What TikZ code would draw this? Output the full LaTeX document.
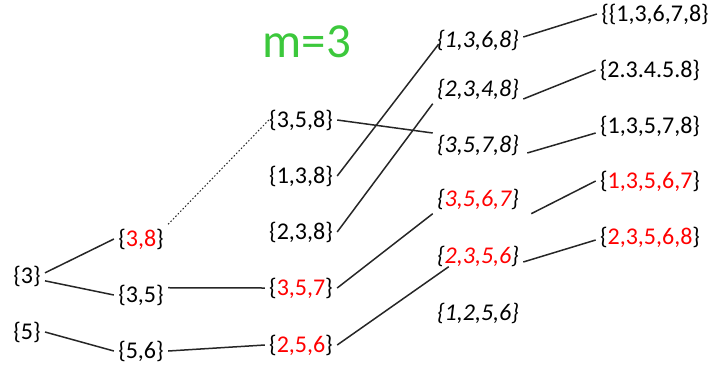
\documentclass[tikz,border=0pt]{standalone}
\usepackage{fontspec}
\setmainfont{Carlito}
\usepackage{xcolor}
\definecolor{setred}{RGB}{255,0,0}
\definecolor{mgreen}{RGB}{60,200,60}
\newcommand{\hl}[1]{\textcolor{setred}{#1}}

\begin{document}
\begin{tikzpicture}[x=0.5pt,y=-0.5pt,
	every node/.style={font=\fontsize{12}{14}\selectfont, inner sep=2pt},
	link/.style={line width=0.75pt, black!85},
	odd/.style={font=\fontsize{12}{14}\selectfont\itshape}]
	\useasboundingbox (0,0) rectangle (714,366);

	% Title
	\node (title) at (307,42) {\fontsize{24.5}{28}\selectfont\textcolor{mgreen}{m=3}};

	% Column 1
	\node (n3) at (27,276) {\{3\}};
	\node (n5) at (27,332) {\{5\}};

	% Column 2
	\node (n38) at (141,239) {\{\hl{3,8}\}};
	\node (n35) at (141,295) {\{3,5\}};
	\node (n56) at (141,351) {\{5,6\}};

	% Column 3
	\node (n358) at (301,120) {\{3,5,8\}};
	\node (n138) at (301,176) {\{1,3,8\}};
	\node (n238) at (301,232) {\{2,3,8\}};
	\node (n357) at (301,288) {\{\hl{3,5,7}\}};
	\node (n256) at (301,345) {\{\hl{2,5,6}\}};

	% Column 4
	\node[odd] (n1368) at (478,40) {\{1,3,6,8\}};
	\node[odd] (n2348) at (478,89) {\{2,3,4,8\}};
	\node[odd] (n3578) at (478,145) {\{3,5,7,8\}};
	\node[odd] (n3567) at (478,199) {\{\hl{3,5,6,7}\}};
	\node[odd] (n2356) at (478,256) {\{\hl{2,3,5,6}\}};
	\node[odd] (n1256) at (478,313) {\{1,2,5,6\}};

	% Column 5
	\node (n13678) at (655,14) {\{\{1,3,6,7,8\}};
	\node (n23458) at (650,70) {\{2.3.4.5.8\}};
	\node (n13578) at (650,126) {\{1,3,5,7,8\}};
	\node (n13567) at (650,181) {\{\hl{1,3,5,6,7}\}};
	\node (n23568) at (650,237) {\{\hl{2,3,5,6,8}\}};

	% Links 1 -> 2
	\draw[link] (n3.10) -- (n38.west);
	\draw[link] (n3.-15) -- (n35.west);
	\draw[link] (n5.east) -- (n56.west);

	% Links 2 -> 3
	\draw[link, densely dotted, line width=0.5pt] (n38.north east) -- ([xshift=2pt]n358.west);
	\draw[link] (n35.15) -- (n357.west);
	\draw[link] (n56.east) -- (n256.west);

	% Links 3 -> 4
	\draw[link] (n358.east) -- ([yshift=6pt]n3578.west);
	\draw[link] (n138.east) -- ([xshift=3pt,yshift=-2pt]n1368.west);
	\draw[link] (n238.east) -- (n2348.south west);
	\draw[link] (n357.east) -- (n3567.south west);
	\draw[link] (n256.east) -- ([xshift=8pt,yshift=2pt]n2356.south west);

	% Links 4 -> 5
	\draw[link] ([yshift=1.5pt]n1368.east) -- (n13678.west);
	\draw[link] ([yshift=-5pt]n2348.east) -- (n23458.west);
	\draw[link] ([xshift=2pt,yshift=-4pt]n3578.east) -- ([yshift=-3.5pt]n13578.west);
	\draw[link] ([xshift=4pt]n3567.south east) -- (n13567.west);
	\draw[link] ([yshift=-3pt]n2356.east) -- ([yshift=-1.5pt]n23568.west);
\end{tikzpicture}
\end{document}
